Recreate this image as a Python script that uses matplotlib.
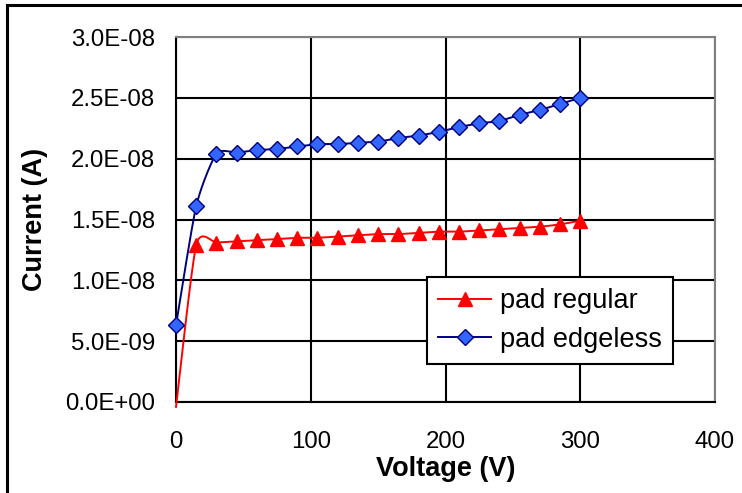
import numpy as np
import matplotlib
matplotlib.use("Agg")
import matplotlib.pyplot as plt
from matplotlib.lines import Line2D

plt.rcParams['font.family'] = ['Liberation Sans', 'DejaVu Sans']

# Measured leakage current vs. bias voltage
voltage = [0, 15, 30, 45, 60, 75, 90, 105, 120, 135, 150,
           165, 180, 195, 210, 225, 240, 255, 270, 285, 300]
current_regular = [-0.4e-9, 12.9e-9, 13.1e-9, 13.2e-9, 13.3e-9, 13.4e-9, 13.5e-9,
                   13.5e-9, 13.6e-9, 13.7e-9, 13.8e-9, 13.8e-9, 13.9e-9, 14.0e-9,
                   14.0e-9, 14.1e-9, 14.2e-9, 14.3e-9, 14.4e-9, 14.6e-9, 14.9e-9]
current_edgeless = [6.3e-9, 16.1e-9, 20.4e-9, 20.5e-9, 20.7e-9, 20.8e-9, 21.0e-9,
                    21.2e-9, 21.2e-9, 21.3e-9, 21.4e-9, 21.7e-9, 21.9e-9, 22.2e-9,
                    22.6e-9, 22.9e-9, 23.1e-9, 23.6e-9, 24.0e-9, 24.5e-9, 25.0e-9]
labels = ["pad regular", "pad edgeless"]
y_ticks = [0, 5e-9, 1e-8, 1.5e-8, 2e-8, 2.5e-8, 3e-8]
x_ticks = [0, 100, 200, 300, 400]


def smooth(x, y, n=20, k=9.0):
    """Cardinal-spline smoothed polyline through the points."""
    x = np.asarray(x, float)
    y = np.asarray(y, float)
    px = np.concatenate([[x[0]], x, [x[-1]]])
    py = np.concatenate([[y[0]], y, [y[-1]]])
    xs, ys = [], []
    t = np.linspace(0, 1, n, endpoint=False)
    for i in range(1, len(px) - 2):
        p0, p1, p2, p3 = (np.array([px[j], py[j]]) for j in (i - 1, i, i + 1, i + 2))
        c1 = p1 + (p2 - p0) / k
        c2 = p2 - (p3 - p1) / k
        b = ((1 - t) ** 3)[:, None] * p1 + (3 * (1 - t) ** 2 * t)[:, None] * c1 \
            + (3 * (1 - t) * t ** 2)[:, None] * c2 + (t ** 3)[:, None] * p2
        xs.append(b[:, 0])
        ys.append(b[:, 1])
    xs.append([x[-1]])
    ys.append([y[-1]])
    return np.concatenate(xs), np.concatenate(ys)


fig = plt.figure(figsize=(7.42, 4.93), dpi=100)
ax = fig.add_axes([176 / 742, 1 - 402 / 493, 539 / 742, 365 / 493])

red = "#FF0000"
navy = "#000080"
blue_face = "#3366FF"

sx, sy = smooth(voltage, current_regular)
ax.plot(sx, sy, color=red, lw=1.4, clip_on=False, zorder=3)
ax.plot(voltage[1:], current_regular[1:], ls="none", marker="^", ms=10.5,
        color=red, mec=red, zorder=4)

sx, sy = smooth(voltage, current_edgeless)
ax.plot(sx, sy, color=navy, lw=1.4, zorder=3)
ax.plot(voltage, current_edgeless, ls="none", marker="D", ms=8.3,
        mfc=blue_face, mec=navy, mew=1.0, zorder=4, clip_on=False)

ax.set_xlim(0, 400)
ax.set_ylim(0, 3e-8)
ax.set_xticks(x_ticks)
ax.set_yticks(y_ticks)
ax.set_yticklabels([f"{v:.1E}" for v in y_ticks])
ax.tick_params(length=0, labelsize=17.3)
ax.tick_params(axis="x", pad=21)
ax.tick_params(axis="y", pad=15)
ax.grid(True, color="black", lw=1.5)
ax.set_axisbelow(True)

for side in ("left", "bottom"):
    ax.spines[side].set_color("black")
    ax.spines[side].set_linewidth(1.5)
for side in ("top", "right"):
    ax.spines[side].set_color("#808080")
    ax.spines[side].set_linewidth(1.5)

ax.set_xlabel("Voltage (V)", fontsize=19.5, fontweight="bold", labelpad=2)
ax.set_ylabel("Current (A)", fontsize=19.5, fontweight="bold", labelpad=12)

handles = [
    Line2D([], [], color=red, lw=1.4, marker="^", ms=10.5),
    Line2D([], [], color=navy, lw=1.4, marker="D", ms=8.3, mfc=blue_face, mec=navy),
]
leg = ax.legend(handles, labels, loc="upper left",
                bbox_to_anchor=((427 - 176) / 539, (402 - 277) / 365),
                prop={"size": 19.5}, frameon=True, fancybox=False, framealpha=1,
                edgecolor="black", borderpad=0.42, labelspacing=0.45,
                handlelength=1.96, handletextpad=0.3, borderaxespad=0)
leg.get_frame().set_linewidth(1.5)

# Outer chart frame
fig.add_artist(Line2D([7 / 742, 7 / 742], [0, 1 - 5 / 493], color="black", lw=2.2))
fig.add_artist(Line2D([7 / 742, 1], [1 - 5 / 493, 1 - 5 / 493], color="black", lw=2.2))

fig.savefig("out.png", dpi=100)
